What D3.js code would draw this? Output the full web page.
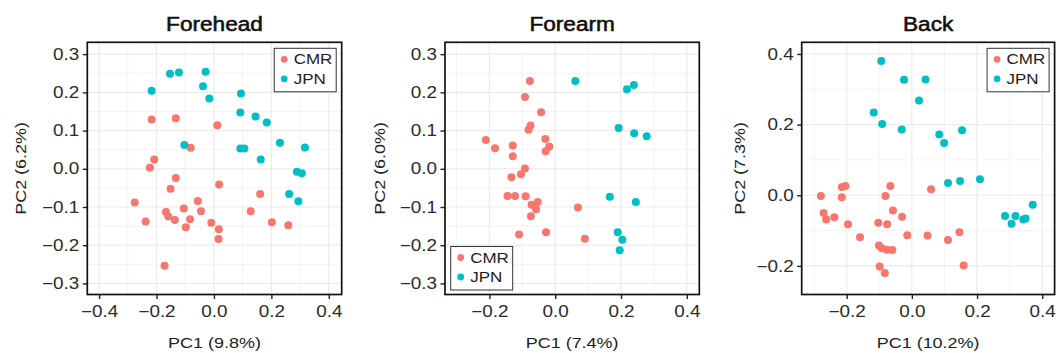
<!DOCTYPE html>
<html>
<head>
<meta charset="utf-8">
<script src="https://cdn.jsdelivr.net/npm/d3@7"></script>
<style>
  body { margin: 0; background: #fff; }
  svg { display: block; font-family: "Liberation Sans", Arial, sans-serif; }
</style>
</head>
<body>
<div id="chart"></div>
<script>
// groups and colours (ggplot defaults)
const groups = ["CMR", "JPN"];
const groupColors = ["#F8766D", "#00BFC4"];

// Forehead  [PC1, PC2]
const foreheadCMR = [[-0.217,0.129],[-0.133,0.132],[0.012,0.114],[-0.081,0.055],[-0.208,0.024],[-0.223,0.003],
  [-0.133,-0.024],[-0.151,-0.052],[0.018,-0.041],[-0.276,-0.088],[-0.056,-0.084],[-0.105,-0.104],[-0.045,-0.111],
  [-0.167,-0.113],[-0.159,-0.125],[-0.136,-0.134],[-0.083,-0.132],[-0.238,-0.138],[-0.098,-0.153],[-0.009,-0.141],
  [0.017,-0.158],[0.016,-0.184],[-0.172,-0.254],[0.161,-0.066],[0.128,-0.111],[0.202,-0.140],[0.259,-0.148]];
const foreheadJPN = [[-0.217,0.204],[-0.153,0.249],[-0.122,0.252],[-0.029,0.254],[-0.038,0.216],[-0.016,0.184],
  [0.094,0.197],[0.092,0.147],[0.145,0.137],[0.184,0.121],[-0.103,0.062],[0.092,0.053],[0.106,0.053],[0.230,0.068],
  [0.317,0.056],[0.163,0.024],[0.289,-0.008],[0.306,-0.012],[0.262,-0.066],[0.294,-0.085]];

// Forearm
const forearmCMR = [[-0.077,0.230],[-0.092,0.188],[-0.043,0.148],[-0.075,0.113],[-0.081,0.102],[-0.211,0.075],
  [-0.183,0.054],[-0.129,0.061],[-0.030,0.078],[-0.018,0.058],[-0.029,0.046],[-0.129,0.033],[-0.092,0.001],
  [-0.104,-0.014],[-0.133,-0.022],[-0.145,-0.071],[-0.122,-0.071],[-0.090,-0.072],[-0.053,-0.087],[-0.072,-0.094],
  [-0.058,-0.106],[-0.074,-0.124],[0.069,-0.101],[-0.110,-0.172],[-0.028,-0.166],[0.090,-0.183]];
const forearmJPN = [[0.061,0.230],[0.218,0.208],[0.239,0.219],[0.193,0.107],[0.240,0.093],[0.278,0.085],
  [0.166,-0.073],[0.245,-0.087],[0.190,-0.166],[0.204,-0.186],[0.196,-0.213]];

// Back
const backCMR = [[-0.279,-0.002],[-0.215,0.023],[-0.204,0.026],[-0.215,-0.006],[-0.066,0.026],[-0.081,-0.002],
  [0.059,0.017],[-0.271,-0.050],[-0.263,-0.069],[-0.238,-0.062],[-0.196,-0.082],[-0.058,-0.043],[-0.030,-0.061],
  [-0.103,-0.078],[-0.076,-0.082],[-0.159,-0.119],[-0.014,-0.113],[0.048,-0.114],[0.146,-0.105],[0.111,-0.127],
  [-0.101,-0.142],[-0.092,-0.150],[-0.076,-0.154],[-0.060,-0.155],[-0.099,-0.202],[-0.083,-0.220],[0.159,-0.199]];
const backJPN = [[-0.094,0.380],[-0.024,0.327],[0.042,0.328],[0.022,0.268],[-0.117,0.234],[-0.091,0.202],
  [-0.031,0.186],[0.084,0.172],[0.099,0.148],[0.154,0.184],[0.111,0.035],[0.148,0.040],[0.209,0.045],
  [0.371,-0.027],[0.286,-0.059],[0.318,-0.059],[0.306,-0.081],[0.342,-0.069],[0.349,-0.066]];

// tick values
const xTicksForehead = [-0.4, -0.2, 0.0, 0.2, 0.4];
const xTicksOther = [-0.2, 0.0, 0.2, 0.4];
const yTicksSmall = [-0.3, -0.2, -0.1, 0.0, 0.1, 0.2, 0.3];
const yTicksBack = [-0.2, 0.0, 0.2, 0.4];

const titles = ["Forehead", "Forearm", "Back"];
const xLabels = ["PC1 (9.8%)", "PC1 (7.4%)", "PC1 (10.2%)"];
const yLabels = ["PC2 (6.2%)", "PC2 (6.0%)", "PC2 (7.3%)"];

const W = 1056, H = 353;
const plotTop = 42.3, plotBottom = 294.5;

const panels = [
  { title: titles[0], xlab: xLabels[0], ylab: yLabels[0], cmr: foreheadCMR, jpn: foreheadJPN,
    left: 87.3, right: 341.7, xdom: [-0.441, 0.445], ydom: [-0.329, 0.331],
    xticks: xTicksForehead, yticks: yTicksSmall, ylabX: 26, legend: "tr" },
  { title: titles[1], xlab: xLabels[1], ylab: yLabels[1], cmr: forearmCMR, jpn: forearmJPN,
    left: 445, right: 699.3, xdom: [-0.335, 0.438], ydom: [-0.329, 0.331],
    xticks: xTicksOther, yticks: yTicksSmall, ylabX: 385, legend: "bl" },
  { title: titles[2], xlab: xLabels[2], ylab: yLabels[2], cmr: backCMR, jpn: backJPN,
    left: 801.7, right: 1054.6, xdom: [-0.338, 0.438], ydom: [-0.281, 0.433],
    xticks: xTicksOther, yticks: yTicksBack, ylabX: 745, legend: "tr" }
];

const svg = d3.select("#chart").append("svg").attr("width", W).attr("height", H);
const fmt = d3.format(".1f");

// the reference font is wider than Liberation Sans, so stretch text horizontally
function widen(sel, s) {
  sel.each(function() {
    const t = d3.select(this);
    const x = +t.attr("x") || 0;
    t.attr("x", x / s).attr("transform", "scale(" + s + ",1)");
  });
}

// minor breaks halfway between majors, kept inside the domain
function minors(ticks, dom) {
  const step = ticks[1] - ticks[0];
  const out = [];
  for (let v = ticks[0] - step / 2; v <= dom[1]; v += step) {
    if (v >= dom[0]) out.push(v);
  }
  return out.filter(v => !ticks.some(t => Math.abs(t - v) < 1e-9));
}

panels.forEach(function(p) {
  const x = d3.scaleLinear().domain(p.xdom).range([p.left, p.right]);
  const y = d3.scaleLinear().domain(p.ydom).range([plotBottom, plotTop]);
  const g = svg.append("g");

  // grid
  const grid = g.append("g");
  grid.selectAll(".xmin").data(minors(p.xticks, p.xdom)).enter().append("line")
    .attr("x1", d => x(d)).attr("x2", d => x(d)).attr("y1", plotTop).attr("y2", plotBottom)
    .attr("stroke", "#EBEBEB").attr("stroke-width", 0.6);
  grid.selectAll(".ymin").data(minors(p.yticks, p.ydom)).enter().append("line")
    .attr("y1", d => y(d)).attr("y2", d => y(d)).attr("x1", p.left).attr("x2", p.right)
    .attr("stroke", "#EBEBEB").attr("stroke-width", 0.6);
  grid.selectAll(".xmaj").data(p.xticks).enter().append("line")
    .attr("x1", d => x(d)).attr("x2", d => x(d)).attr("y1", plotTop).attr("y2", plotBottom)
    .attr("stroke", "#EBEBEB").attr("stroke-width", 1.2);
  grid.selectAll(".ymaj").data(p.yticks).enter().append("line")
    .attr("y1", d => y(d)).attr("y2", d => y(d)).attr("x1", p.left).attr("x2", p.right)
    .attr("stroke", "#EBEBEB").attr("stroke-width", 1.2);

  // points
  const pts = g.append("g");
  [p.cmr, p.jpn].forEach(function(data, i) {
    pts.selectAll(".pt" + i).data(data).enter().append("circle")
      .attr("cx", d => x(d[0])).attr("cy", d => y(d[1])).attr("r", 4)
      .attr("fill", groupColors[i]);
  });

  // axes
  const xAxis = g.append("g").attr("transform", "translate(0," + plotBottom + ")")
    .call(d3.axisBottom(x).tickValues(p.xticks).tickFormat(fmt).tickSizeInner(4.5).tickSizeOuter(0).tickPadding(7));
  const yAxis = g.append("g").attr("transform", "translate(" + p.left + ",0)")
    .call(d3.axisLeft(y).tickValues(p.yticks).tickFormat(fmt).tickSizeInner(4.5).tickSizeOuter(0).tickPadding(3.5));
  [xAxis, yAxis].forEach(function(a) {
    a.select(".domain").remove();
    a.selectAll(".tick line").attr("stroke", "#222").attr("stroke-width", 1.4);
    a.selectAll(".tick text").attr("fill", "#2b2b2b").style("font-size", "16px");
    widen(a.selectAll(".tick text"), 1.18);
  });

  // panel border
  g.append("rect").attr("x", p.left).attr("y", plotTop)
    .attr("width", p.right - p.left).attr("height", plotBottom - plotTop)
    .attr("fill", "none").attr("stroke", "#111").attr("stroke-width", 1.7);

  // title
  const cx = (p.left + p.right) / 2;
  const t = g.append("text").attr("x", cx).attr("y", 31).attr("text-anchor", "middle")
    .style("font-size", "19.5px").attr("fill", "#111")
    .attr("stroke", "#111").attr("stroke-width", 0.55).text(p.title);
  widen(t, 1.16);

  // axis titles
  const xt = g.append("text").attr("x", cx).attr("y", 348.5).attr("text-anchor", "middle")
    .style("font-size", "15.5px").attr("fill", "#222").text(p.xlab);
  widen(xt, 1.16);
  g.append("text")
    .attr("transform", "translate(" + p.ylabX + "," + ((plotTop + plotBottom) / 2) + ") rotate(-90) scale(1.16,1)")
    .attr("text-anchor", "middle").style("font-size", "15.5px").attr("fill", "#222").text(p.ylab);

  // legend
  const lw = 62, lh = 43.5;
  const lx = p.legend === "tr" ? p.right - 5.5 - lw : p.left + 5.7;
  const ly = p.legend === "tr" ? plotTop + 6 : plotBottom - 4.5 - lh;
  const lg = g.append("g").attr("transform", "translate(" + lx + "," + ly + ")");
  lg.append("rect").attr("width", lw).attr("height", lh)
    .attr("fill", "#fff").attr("stroke", "#333").attr("stroke-width", 1);
  groups.forEach(function(name, i) {
    lg.append("circle").attr("cx", 10).attr("cy", 11 + i * 19.5).attr("r", 3.4).attr("fill", groupColors[i]);
    const lt = lg.append("text").attr("x", 19.5).attr("y", 16.2 + i * 19.5)
      .style("font-size", "14.5px").attr("fill", "#222").text(name);
    widen(lt, 1.17);
  });
});
</script>
</body>
</html>
